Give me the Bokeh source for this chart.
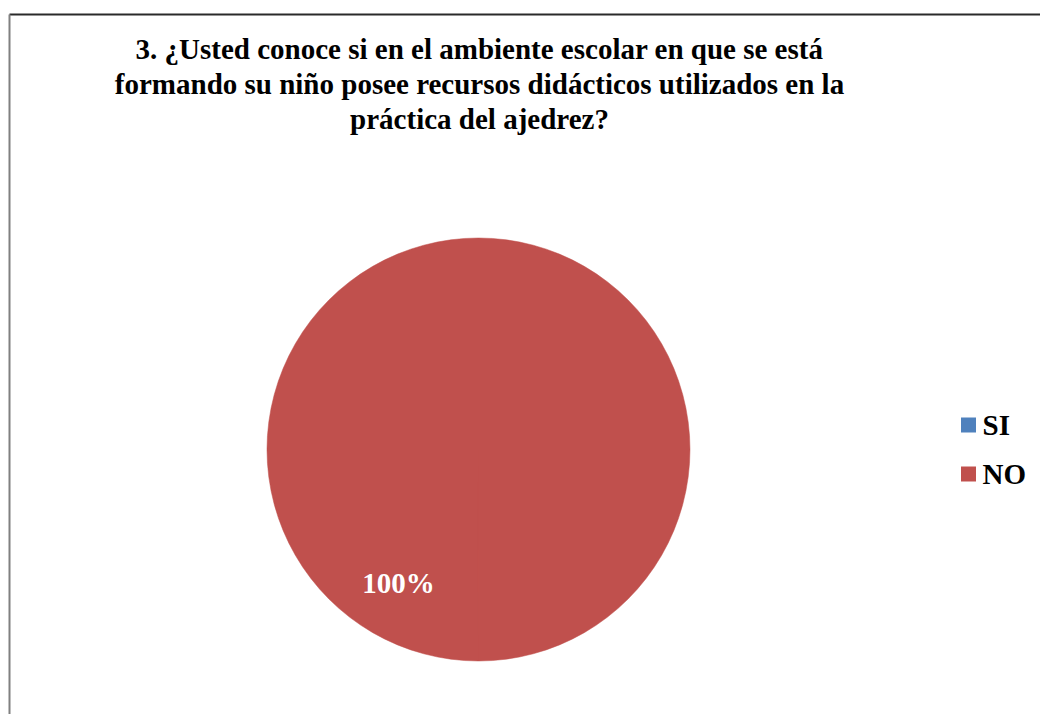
import math
from bokeh.plotting import figure
from bokeh.models import Range1d, ColumnDataSource
from bokeh.core.properties import value
from bokeh.embed import file_html
from bokeh.resources import INLINE

# ---- data ----
categories = ["SI", "NO"]
shares = [0.0, 100.0]
colors = ["#4F81BD", "#C0504D"]
title_lines = [
    "3. ¿Usted conoce si en el ambiente escolar en que se está",
    "formando su niño posee recursos didácticos utilizados en la",
    "práctica del ajedrez?",
]

W, H = 1040, 714
FONT = value("'Liberation Serif', 'Times New Roman', serif")
FS = "29px"

p = figure(width=W, height=H, output_backend="svg", toolbar_location=None,
           x_range=Range1d(0, W), y_range=Range1d(H, 0),
           min_border=0, outline_line_color=None)
p.axis.visible = False
p.grid.visible = False
p.background_fill_color = "white"
p.border_fill_color = "white"

# chart-area border (top and left edges visible)
p.segment(x0=[9], y0=[14], x1=[W], y1=[14], line_color="#2a2a2a", line_width=2)
p.segment(x0=[9], y0=[14], x1=[9], y1=[H], line_color="#808080", line_width=2)

# ---- pie ----
cx, cy, r = 478, 449, 211.5
total = sum(shares)
a = -math.pi / 2  # 12 o'clock (y axis reversed -> clockwise)
rows = dict(cat=[], start=[], end=[], color=[], x=[], y=[])
label_txt = []
for c, s, col in zip(categories, shares, colors):
    span = 2 * math.pi * s / total
    if s > 0:
        rows["cat"].append(c)
        rows["start"].append(a)
        rows["end"].append(a + min(span, 2 * math.pi - 1e-4))
        rows["color"].append(col)
        rows["x"].append(cx)
        rows["y"].append(cy)
        label_txt.append(f"{s:.0f}%")
    a += span
src = ColumnDataSource(rows)
p.wedge(x="x", y="y", radius=r, start_angle="start", end_angle="end",
        fill_color="color", line_color="color", line_width=0.5, source=src)

# data label (Excel puts the full-circle label in the lower-left)
p.text(x=[cx - 80], y=[cy + 133], text=label_txt, text_color="white",
       text_font=FONT, text_font_style="bold", text_font_size=FS,
       text_align="center", text_baseline="middle")

# ---- title ----
p.text(x=[479] * 3, y=[48, 83, 118], text=title_lines, text_color="black",
       text_font=FONT, text_font_style="bold", text_font_size=FS,
       text_align="center", text_baseline="middle")

# ---- legend ----
leg_y = [424.5, 473.5]
p.scatter(x=[968] * 2, y=leg_y, marker="square", size=15, fill_color=colors,
          line_color=None)
p.text(x=[982] * 2, y=leg_y, text=categories, text_color="black",
       text_font=FONT, text_font_style="bold", text_font_size=FS,
       text_align="left", text_baseline="middle")

open("out.html", "w").write(file_html(p, INLINE))
